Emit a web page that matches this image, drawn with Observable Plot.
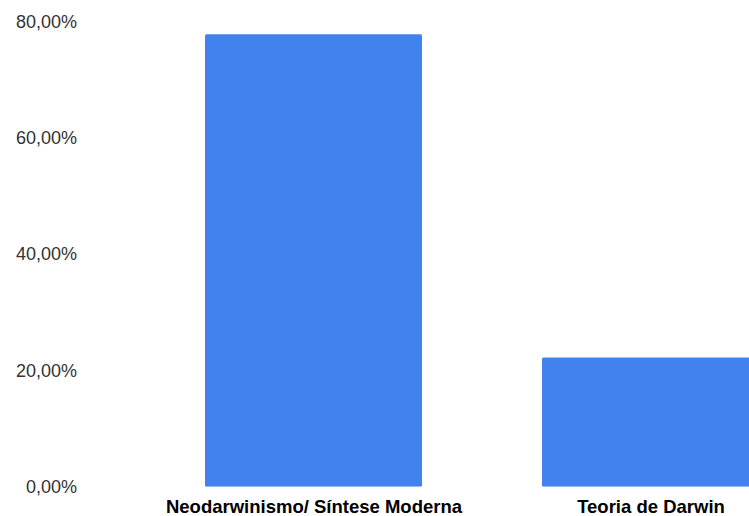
<!DOCTYPE html>
<html>
<head>
<meta charset="utf-8">
<script src="https://cdn.jsdelivr.net/npm/d3@7"></script>
<script src="https://cdn.jsdelivr.net/npm/@observablehq/plot@0.6"></script>
<style>
  html, body { margin: 0; padding: 0; background: white; overflow: hidden; }
</style>
</head>
<body>
<div id="chart"></div>
<script>
const categories = ["Neodarwinismo/ Síntese Moderna", "Teoria de Darwin"];
const values = [77.78, 22.22];
const yTicks = [0, 20, 40, 60, 80];

const data = categories.map((c, i) => ({category: c, value: values[i]}));

const chart = Plot.plot({
  width: 749,
  height: 516,
  marginTop: 21.3,
  marginBottom: 29.3,
  marginLeft: 84,
  marginRight: 0,
  style: {background: "white", fontFamily: "Liberation Sans, Arial, sans-serif", overflow: "hidden"},
  x: {domain: categories, range: [84, 879.4], padding: 0.3553, label: null},
  y: {domain: [0, 80], label: null},
  marks: [
    Plot.barY(data, {x: "category", y: "value", fill: "#4282ee", rx: 1.5, clip: true}),
    Plot.axisY({ticks: yTicks, tickSize: 0, tickPadding: 7.5, label: null,
      tickFormat: d => d.toFixed(2).replace(".", ",") + "%",
      fontSize: 18, fill: "#333"}),
    Plot.axisX({tickSize: 0, tickPadding: 12.5, label: null, fontSize: 18.5, fontWeight: "bold", fill: "#000"})
  ]
});
document.getElementById("chart").appendChild(chart);
</script>
</body>
</html>
